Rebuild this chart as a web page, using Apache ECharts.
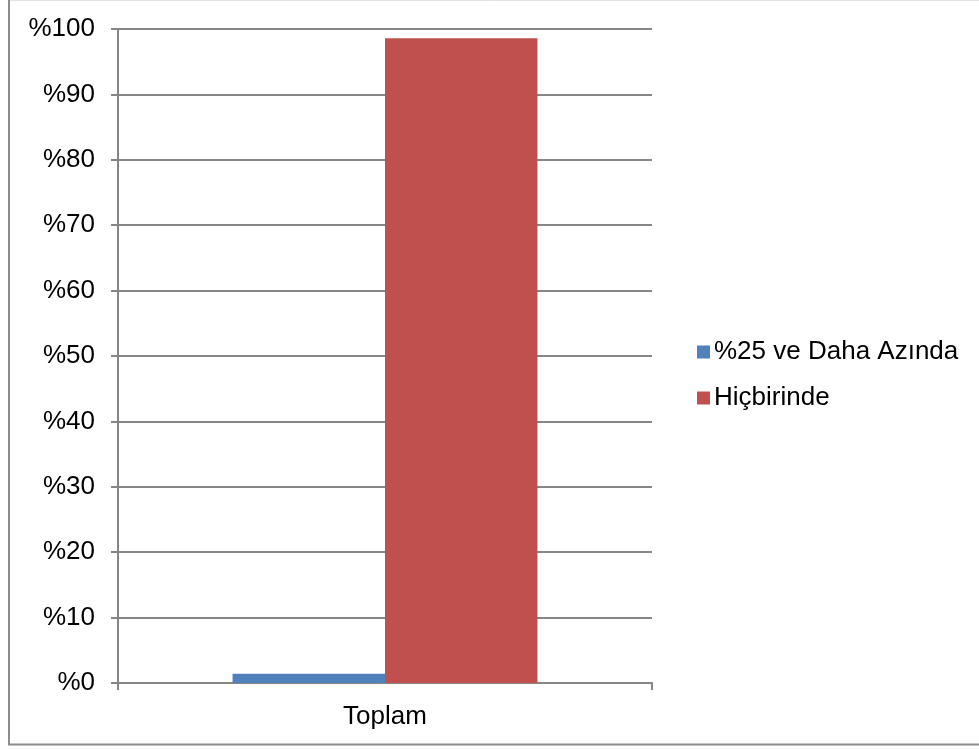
<!DOCTYPE html>
<html>
<head>
<meta charset="utf-8">
<style>
  html, body { margin: 0; padding: 0; background: #ffffff; }
  #chart { width: 979px; height: 749px; }
</style>
<script src="https://cdn.jsdelivr.net/npm/echarts@6/dist/echarts.min.js"></script>
</head>
<body>
<div id="chart"></div>
<script>
// Category and series values
const categories = ['Toplam'];
const seriesNames = ['%25 ve Daha Azında', 'Hiçbirinde'];
const seriesAzinda = [1.4];
const seriesHicbirinde = [98.6];
const seriesColors = ['#4f81bd', '#c0504d'];
const yMin = 0, yMax = 100, yStep = 10;

const chart = echarts.init(document.getElementById('chart'), null, { renderer: 'canvas' });
const font = '"Liberation Sans", Arial, sans-serif';
const axisGray = '#868686';

chart.setOption({
  animation: false,
  backgroundColor: '#ffffff',
  graphic: [
    // chart frame: faint top edge, grey left and bottom edges
    { type: 'line', shape: { x1: 8, y1: 0.5, x2: 979, y2: 0.5 }, style: { stroke: '#e2e2e2', lineWidth: 1 }, silent: true },
    { type: 'line', shape: { x1: 9, y1: 0, x2: 9, y2: 745 }, style: { stroke: '#8c8c8c', lineWidth: 2 }, silent: true },
    { type: 'line', shape: { x1: 8, y1: 744.5, x2: 979, y2: 744.5 }, style: { stroke: '#8c8c8c', lineWidth: 2 }, silent: true }
  ],
  grid: { left: 118, right: 327, top: 29, bottom: 66 },
  legend: {
    orient: 'vertical',
    left: 692,
    top: 334,
    itemWidth: 13,
    itemHeight: 13,
    itemGap: 20,
    icon: 'rect',
    textStyle: { fontFamily: font, fontSize: 26, lineHeight: 26, color: '#000000', padding: [0, 0, 0, -1] },
    data: seriesNames
  },
  xAxis: {
    type: 'category',
    data: categories,
    axisLine: { show: true, lineStyle: { color: axisGray, width: 2 } },
    axisTick: { show: true, length: 7, lineStyle: { color: axisGray, width: 2 } },
    axisLabel: { fontFamily: font, fontSize: 26, color: '#000000', margin: 21 },
    splitLine: { show: false }
  },
  yAxis: {
    type: 'value',
    min: yMin,
    max: yMax,
    interval: yStep,
    axisLine: { show: true, lineStyle: { color: axisGray, width: 2 } },
    axisTick: { show: true, length: 7, lineStyle: { color: axisGray, width: 2 } },
    axisLabel: {
      fontFamily: font, fontSize: 26, color: '#000000', margin: 23,
      formatter: v => '%' + v
    },
    splitLine: { show: true, lineStyle: { color: axisGray, width: 2 } }
  },
  series: [
    {
      name: seriesNames[0],
      type: 'bar',
      data: seriesAzinda,
      itemStyle: { color: seriesColors[0] },
      barGap: '0%',
      barCategoryGap: '42.9%'
    },
    {
      name: seriesNames[1],
      type: 'bar',
      data: seriesHicbirinde,
      itemStyle: { color: seriesColors[1] },
      barGap: '0%',
      barCategoryGap: '42.9%'
    }
  ]
});
</script>
</body>
</html>
